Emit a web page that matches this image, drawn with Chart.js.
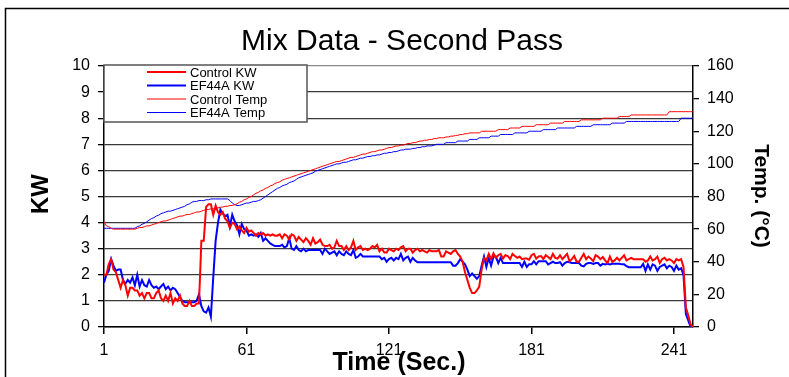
<!DOCTYPE html>
<html>
<head>
<meta charset="utf-8">
<title>Mix Data - Second Pass</title>
<script src="https://cdn.jsdelivr.net/npm/chart.js@4.4.1/dist/chart.umd.min.js"></script>
<style>
  html, body { margin: 0; padding: 0; background: #fff; }
  #wrap { width: 789px; height: 377px; }
</style>
</head>
<body>
<div id="wrap"><canvas id="mixChart" width="789" height="377"></canvas></div>
<script>
// time axis: one reading per second
const seconds = Array.from({ length: 249 }, (_, i) => i + 1);
const timeTicks = [1, 61, 121, 181, 241];

const chartTitle = 'Mix Data - Second Pass';
const xTitle = 'Time (Sec.)';
const kwTitle = 'KW';
const tempTitle = 'Temp. (°C)';

// KW readings
const controlKW = [
  2.0, 2.0, 2.4, 2.6, 2.2, 2.1, 1.8, 1.5, 1.8, 1.6,
  1.2, 1.5, 1.5, 1.4, 1.4, 1.2, 1.3, 1.1, 1.3, 1.3,
  1.1, 1.1, 1.3, 1.4, 1.1, 1.0, 1.2, 1.0, 1.3, 0.9,
  1.1, 1.0, 1.2, 0.9, 0.8, 0.8, 1.0, 0.8, 0.8, 0.9,
  0.9, 3.3, 3.3, 4.6, 4.7, 4.7, 4.3, 4.65, 4.4, 4.3,
  4.4, 4.15, 4.05, 3.8, 4.0, 3.95, 3.75, 3.85, 3.7, 3.6,
  3.8, 3.65, 3.7, 3.6, 3.5, 3.6, 3.55, 3.6, 3.5, 3.55,
  3.5, 3.55, 3.5, 3.5, 3.55, 3.4, 3.55, 3.5, 3.35, 3.55,
  3.5, 3.3, 3.45, 3.35, 3.25, 3.4, 3.3, 3.15, 3.4, 3.2,
  3.25, 3.35, 3.15, 3.1, 3.1, 3.15, 3.0, 3.05, 3.3, 3.1,
  3.1, 2.95, 3.1, 2.95, 3.05, 3.3, 2.95, 3.05, 3.1, 2.95,
  3.0, 2.95, 3.0, 3.1, 3.05, 3.15, 2.9, 3.0, 2.85, 2.85,
  3.0, 2.95, 2.9, 3.0, 2.95, 3.05, 3.1, 2.9, 3.0, 3.0,
  2.85, 2.95, 3.0, 2.9, 2.95, 2.9, 2.85, 2.95, 2.9, 2.9,
  2.9, 2.95, 2.7, 2.7, 2.9, 2.85, 2.8, 2.9, 2.95, 2.8,
  2.7, 2.5, 2.1, 1.8, 1.5, 1.3, 1.3, 1.4, 1.55, 2.2,
  2.65, 2.55, 2.8, 2.6, 2.82, 2.65, 2.75, 2.8, 2.62, 2.75,
  2.72, 2.6, 2.8, 2.72, 2.65, 2.7, 2.6, 2.62, 2.62, 2.58,
  2.75, 2.8, 2.62, 2.7, 2.72, 2.6, 2.75, 2.68, 2.6, 2.8,
  2.65, 2.62, 2.75, 2.6, 2.7, 2.8, 2.52, 2.6, 2.72, 2.5,
  2.5, 2.65, 2.8, 2.6, 2.7, 2.62, 2.52, 2.75, 2.7, 2.6,
  2.68, 2.55, 2.45, 2.7, 2.5, 2.55, 2.65, 2.55, 2.65, 2.75,
  2.55, 2.6, 2.65, 2.6, 2.6, 2.6, 2.6, 2.6, 2.5, 2.55,
  2.7, 2.55, 2.6, 2.7, 2.45, 2.6, 2.65, 2.55, 2.6, 2.55,
  2.45, 2.6, 2.55, 2.6, 2.3, 0.75, 0.45, 0.1, 0
];
const ef44aKW = [
  1.7, 2.0, 2.15, 2.6, 2.35, 2.15, 2.2, 2.2, 1.8, 1.65,
  1.8, 1.7, 1.9, 1.6, 2.0, 1.55, 1.8, 1.6, 1.55, 1.8,
  1.6, 1.5, 1.55, 1.45, 1.55, 1.65, 1.45, 1.55, 1.4, 1.5,
  1.45, 1.3, 1.15, 1.0, 0.95, 0.95, 0.95, 0.95, 0.95, 1.0,
  1.25, 0.8, 0.6, 0.55, 0.75, 0.4, 1.9, 3.3, 4.0, 4.5,
  4.35, 4.25, 4.3, 3.85, 4.3, 4.05, 3.9, 3.55, 3.95, 3.75,
  3.7, 3.5, 3.55, 3.5, 3.55, 3.45, 3.6, 3.3, 3.4, 3.3,
  3.2, 3.15, 3.1, 3.1, 3.1, 3.15, 3.05, 3.1, 3.4, 3.0,
  2.95, 3.1, 2.95, 2.9, 3.0, 2.9, 2.95, 2.95, 2.95, 2.95,
  2.95, 2.95, 2.8, 3.0, 2.9, 2.8, 2.85, 2.9, 2.75, 2.9,
  2.8, 2.75, 2.9, 2.8, 2.75, 2.95, 2.65, 2.7, 2.8, 2.7,
  2.7, 2.7, 2.7, 2.7, 2.7, 2.7, 2.7, 2.6, 2.65, 2.5,
  2.6, 2.65, 2.55, 2.65, 2.6, 2.8, 2.55, 2.65, 2.7, 2.5,
  2.65, 2.55, 2.48, 2.48, 2.48, 2.48, 2.48, 2.48, 2.48, 2.48,
  2.48, 2.48, 2.48, 2.48, 2.48, 2.48, 2.48, 2.35, 2.35, 2.45,
  2.6, 2.5, 2.4, 2.2, 1.95, 2.05, 1.95, 1.85, 1.95, 2.35,
  2.7, 2.3, 2.65, 2.35, 2.7, 2.7, 2.45, 2.65, 2.45, 2.45,
  2.45, 2.45, 2.45, 2.45, 2.45, 2.45, 2.3, 2.5, 2.3, 2.4,
  2.4, 2.52, 2.4, 2.52, 2.52, 2.52, 2.52, 2.4, 2.45, 2.5,
  2.45, 2.45, 2.48, 2.35, 2.45, 2.5, 2.48, 2.45, 2.45, 2.45,
  2.45, 2.35, 2.32, 2.42, 2.45, 2.45, 2.42, 2.45, 2.45, 2.35,
  2.42, 2.4, 2.42, 2.4, 2.42, 2.42, 2.42, 2.42, 2.4, 2.4,
  2.33, 2.29, 2.29, 2.29, 2.29, 2.29, 2.29, 2.42, 2.15, 2.4,
  2.2, 2.4, 2.35, 2.15, 2.3, 2.35, 2.4, 2.25, 2.35, 2.3,
  2.15, 2.35, 2.2, 2.25, 2.0, 0.5, 0.25, 0, 0
];

// temperature readings, deg C
const controlTemp = [
  64.5, 62, 61.5, 60.5, 60, 60, 60, 60, 60, 60,
  60, 60, 60, 60, 60.5, 61, 61, 61.5, 62, 62,
  62.5, 63, 63.5, 64, 64.5, 65, 65, 65.5, 66, 66.5,
  67, 67.5, 68, 68, 68.5, 69, 69, 69.5, 70, 70.5,
  70.5, 71, 71.5, 72, 72, 72.5, 72.5, 73, 73, 73.5,
  73.5, 74, 74, 74.5, 74.5, 75, 75.5, 76.5, 77, 78,
  78.5, 79.5, 80, 81, 82, 82.5, 83.5, 84, 85, 85.5,
  86.5, 87, 88, 88.5, 89, 90, 90.5, 91, 91.5, 92,
  92.5, 93, 93.5, 94, 94.5, 95, 95.5, 96, 96.5, 97,
  97.5, 98, 98.5, 99, 99.5, 100, 100.5, 101, 101.5, 101.5,
  102, 102.5, 103, 103.5, 104, 104, 104.5, 105, 105.5, 106,
  106, 106.5, 107, 107.5, 107.5, 108, 108.5, 108.5, 109, 109.5,
  110, 110, 110.5, 111, 111, 111.5, 111.5, 112, 112.5, 112.5,
  113, 113, 113.5, 114, 114, 114.5, 114.5, 115, 115, 115.5,
  115.5, 116, 116, 116, 116.5, 116.5, 117, 117, 117.5, 117.5,
  118, 118, 118.5, 118.5, 119, 119, 119, 119, 119, 120,
  120, 120, 120, 120, 120, 120, 121, 121, 121, 121,
  121, 122, 122, 122, 122, 122, 123, 123, 123, 123,
  123, 123, 124, 124, 124, 124, 124, 124, 125, 125,
  125, 125, 125, 125, 126, 126, 126, 126, 126, 126,
  126, 127, 127, 127, 127, 127, 127, 127, 127, 127,
  128, 128, 128, 128, 128, 128, 128, 129, 129, 129,
  129, 129, 130, 130, 130, 130, 130, 130, 130, 130,
  130, 130, 130, 130, 130, 130, 130, 130, 132, 132,
  132, 132, 132, 132, 132, 132, 132, 132, 132
];
const ef44aTemp = [
  60.5, 60.5, 60.5, 60.5, 60.5, 60.5, 60.5, 60.5, 60.5, 60.5,
  60.5, 60.5, 60.5, 60.5, 61.5, 62, 63, 63.5, 64.5, 65.5,
  66.5, 67, 68, 68.5, 69.5, 70, 70.5, 71, 71, 71.5,
  72, 72.5, 73, 73.5, 74, 75, 75.5, 76.5, 77, 77,
  77.5, 77.5, 77.5, 78, 78, 78.5, 78.5, 78.5, 78.5, 78.5,
  78.5, 78.5, 78.5, 77.5, 76, 75, 74.5, 74.5, 75, 75.5,
  76, 76, 76.5, 77, 77, 77.5, 78, 79, 80, 81,
  82, 83, 84, 85, 85.5, 86.5, 87, 87.5, 88.5, 89,
  89.5, 90.5, 91.5, 92, 92.5, 93, 93.5, 94, 94.5, 95.5,
  96, 96.5, 97, 97.5, 98, 98.5, 99, 99.5, 100, 100,
  100.5, 101, 101, 101.5, 102, 102.5, 102.5, 103, 103.5, 103.5,
  104, 104.5, 104.5, 105, 105, 105.5, 105.5, 106, 106.5, 106.5,
  107, 107, 107.5, 107.5, 108, 108.5, 108.5, 109, 109, 109,
  109.5, 109.5, 110, 110, 110.5, 110.5, 111, 111, 111, 111.5,
  112, 112, 112, 112, 113, 113, 113, 113, 113, 114,
  114, 114, 114, 114, 115, 115, 115, 115, 116, 116,
  116, 116, 116, 117, 117, 117, 117, 118, 118, 118,
  118, 118, 118, 119, 119, 119, 119, 119, 119, 120,
  120, 120, 120, 120, 120, 121, 121, 121, 121, 121,
  121, 122, 122, 122, 122, 122, 122, 122, 122, 123,
  123, 123, 123, 123, 123, 123, 124, 124, 124, 124,
  124, 124, 124, 124, 125, 125, 125, 125, 125, 125,
  126, 126, 126, 126, 126, 126, 126, 126, 126, 126,
  126, 126, 126, 126, 126, 126, 126, 126, 126, 126,
  126, 126, 126, 128, 128, 128, 128, 128, 128
];

const FONT = "'Liberation Sans', Arial, sans-serif";

// frame, titles and the boxed legend, drawn straight on the canvas
const decorations = {
  id: 'decorations',
  afterDraw(chart) {
    const ctx = chart.ctx;
    const area = chart.chartArea;
    ctx.save();
    ctx.strokeStyle = '#000';
    ctx.lineWidth = 1.5;
    ctx.beginPath();
    ctx.moveTo(5.5, 377);
    ctx.lineTo(5.5, 8.5);
    ctx.lineTo(789, 8.5);
    ctx.stroke();

    ctx.fillStyle = '#000';
    ctx.textAlign = 'center';
    ctx.textBaseline = 'alphabetic';
    ctx.font = '30px ' + FONT;
    ctx.fillText(chartTitle, 402, 50);
    ctx.font = 'bold 25px ' + FONT;
    ctx.fillText(xTitle, 399, 370);

    ctx.textBaseline = 'middle';
    ctx.save();
    ctx.translate(41, 194);
    ctx.rotate(-Math.PI / 2);
    ctx.font = 'bold 24px ' + FONT;
    ctx.fillText(kwTitle, 0, 0);
    ctx.restore();
    ctx.save();
    ctx.translate(761, 196);
    ctx.rotate(Math.PI / 2);
    ctx.font = 'bold 21px ' + FONT;
    ctx.fillText(tempTitle, 0, 0);
    ctx.restore();

    // legend box in the top left corner of the plot
    const bx = area.left, by = area.top - 1;
    ctx.fillStyle = '#fff';
    ctx.fillRect(bx, by, 203, 57);
    ctx.strokeStyle = '#555';
    ctx.lineWidth = 1.5;
    ctx.strokeRect(bx, by, 203, 57);
    ctx.font = '13px ' + FONT;
    ctx.textAlign = 'left';
    chart.data.datasets.forEach((ds, i) => {
      const y = by + 7 + i * 13.5;
      ctx.strokeStyle = ds.borderColor;
      ctx.lineWidth = ds.borderWidth === 2 ? 2 : 1.2;
      ctx.beginPath();
      ctx.moveTo(bx + 43, y);
      ctx.lineTo(bx + 82, y);
      ctx.stroke();
      ctx.fillStyle = '#000';
      ctx.fillText(ds.label, bx + 86, y + 1);
    });
    ctx.restore();
  }
};

const ctx = document.getElementById('mixChart').getContext('2d');
const mixChart = new Chart(ctx, {
  type: 'line',
  data: {
    labels: seconds,
    datasets: [
      { label: 'Control KW', data: controlKW, borderColor: '#ff0000', borderWidth: 2, yAxisID: 'kw' },
      { label: 'EF44A KW', data: ef44aKW, borderColor: '#0000ff', borderWidth: 2, yAxisID: 'kw' },
      { label: 'Control Temp', data: controlTemp, borderColor: '#ff0000', borderWidth: 1, yAxisID: 'temp' },
      { label: 'EF44A Temp', data: ef44aTemp, borderColor: '#0000ff', borderWidth: 1, yAxisID: 'temp' }
    ]
  },
  options: {
    responsive: false,
    animation: false,
    layout: { padding: { top: 66, left: 0, right: 0, bottom: 0 } },
    elements: {
      point: { radius: 0 },
      line: { tension: 0, fill: false }
    },
    plugins: {
      legend: { display: false },
      title: { display: false },
      tooltip: { enabled: false }
    },
    scales: {
      x: {
        type: 'category',
        offset: false,
        grid: { drawOnChartArea: false, tickLength: 7, tickColor: '#000', lineWidth: 1.5 },
        border: { color: '#000', width: 1.5 },
        ticks: {
          autoSkip: false,
          maxRotation: 0,
          padding: 7,
          color: '#000',
          font: { family: FONT, size: 16 },
          callback: function (value) {
            const label = this.getLabelForValue(value);
            return timeTicks.includes(label) ? String(label) : null;
          }
        },
        afterFit: (scale) => { scale.height = 50; }
      },
      kw: {
        position: 'left',
        min: 0,
        max: 10,
        ticks: { stepSize: 1, padding: 8, color: '#000', font: { family: FONT, size: 16 } },
        grid: {
          color: (c) => (c.tick && c.tick.value === 10) ? '#8a8a8a' : '#3a3a3a',
          lineWidth: 1.3,
          tickLength: 6,
          tickColor: '#000'
        },
        border: { color: '#000', width: 1.5 },
        afterFit: (scale) => { scale.width = 104; }
      },
      temp: {
        position: 'right',
        min: 0,
        max: 160,
        ticks: { stepSize: 20, padding: 8, color: '#000', font: { family: FONT, size: 16 } },
        grid: { drawOnChartArea: false, tickLength: 6, tickColor: '#000', lineWidth: 1.3 },
        border: { color: '#000', width: 1.5 },
        afterFit: (scale) => { scale.width = 96; }
      }
    }
  },
  plugins: [decorations]
});
</script>
</body>
</html>
